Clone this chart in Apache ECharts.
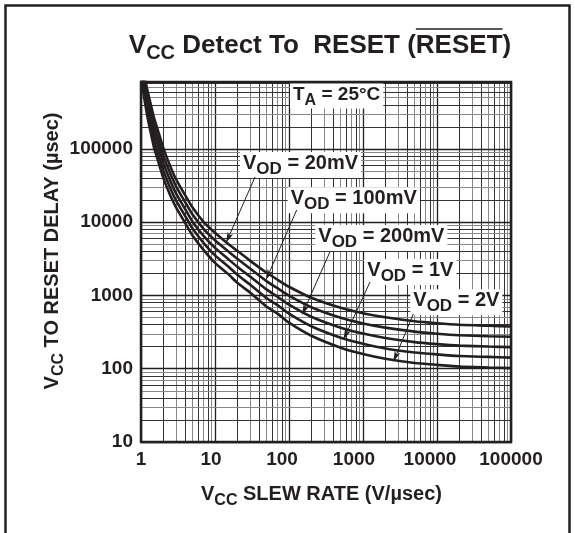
<!DOCTYPE html>
<html><head><meta charset="utf-8">
<script src="https://cdn.jsdelivr.net/npm/echarts@6/dist/echarts.min.js"></script>
<style>html,body{margin:0;padding:0;background:#fff}#c{width:575px;height:533px}</style>
</head><body><div id="c"></div>
<script>
// ---- data ----
const slewRate   = [1, 1.1, 1.2, 1.3, 1.5, 1.7, 2, 2.5, 3, 4, 5, 7, 10, 15, 20, 30, 50, 70, 100, 200, 500, 1000, 2000, 5000, 10000, 20000, 50000, 100000];
const delay20mV  = [1640000, 1026000, 682000, 483000, 266000, 177000, 103500, 57000, 37800, 22900, 15700, 10100, 7160, 5070, 4070, 2970, 2040, 1640, 1315, 931, 679, 572, 505, 445, 418, 398, 386, 378];
const delay100mV = [1424000, 863000, 556000, 388000, 210000, 140000, 81800, 45400, 30400, 18400, 12600, 8110, 5660, 4010, 3170, 2310, 1560, 1260, 992, 691, 496, 415, 364, 321, 301, 287, 278, 273];
const delay200mV = [1236000, 726000, 453000, 311000, 166000, 110000, 64600, 36200, 24400, 14800, 10100, 6510, 4470, 3160, 2460, 1800, 1200, 962, 748, 513, 363, 302, 263, 231, 217, 207, 201, 197];
const delay1V    = [1073000, 610000, 369000, 250000, 131000, 87200, 51000, 28900, 19600, 11900, 8130, 5230, 3530, 2500, 1920, 1400, 917, 737, 564, 380, 265, 219, 189, 167, 157, 149, 145, 142];
const delay2V    = [931000, 513000, 301000, 201000, 104000, 68900, 40300, 23000, 15700, 9540, 6530, 4200, 2790, 1970, 1490, 1090, 702, 565, 425, 282, 194, 159, 137, 120, 113, 107, 104, 102];
const seriesNames = ['VOD = 20mV', 'VOD = 100mV', 'VOD = 200mV', 'VOD = 1V', 'VOD = 2V'];
const xTickLabels = [1, 10, 100, 1000, 10000, 100000];
const yTickLabels = [10, 100, 1000, 10000, 100000];
const xMin = 1, xMax = 100000, yMin = 10, yMax = 820000;

const FONT = '"Liberation Sans", Arial, Helvetica, sans-serif';
const INK = '#231f20';

// grid lines (log paper: 1..9 per decade)
function logGrid(lo, hi) {
  const out = [];
  for (let d = lo; d < hi * 10; d *= 10) {
    for (let m = 1; m <= 9; m++) {
      const v = m * d;
      if (v > lo * 0.999 && v < hi * 1.001) out.push({ v: v, major: m === 1, m: m });
    }
  }
  return out;
}
const mlData = [];
function styleFor(g) {
  if (g.major) return { color: INK, width: 1.3, type: 'solid' };
  return (g.m % 2 === 0) ? { color: '#333', width: 1, type: 'solid' } : { color: '#888', width: 1, type: 'solid' };
}
logGrid(xMin, xMax).forEach(g => mlData.push({ xAxis: g.v, lineStyle: styleFor(g) }));
logGrid(yMin, yMax).forEach(g => mlData.push({ yAxis: g.v, lineStyle: styleFor(g) }));

function tickIndex(v, arr) { return arr.findIndex(t => Math.abs(Math.log10(v) - Math.log10(t)) < 1e-6); }

// small horizontal shifts of the x tick labels as printed in the reference (layout only)
const xLabelShift = [0, -4, -7, -9, -7, 0];
const xRich = {};
xLabelShift.forEach((s, i) => {
  xRich['s' + i] = { fontSize: 19, fontWeight: 'bold', fontFamily: FONT, color: INK,
    padding: s < 0 ? [0, -2 * s, 0, 0] : [0, 0, 0, 2 * s] };
});

// text layout helpers
const mctx = document.createElement('canvas').getContext('2d');
function tw(t, s) { mctx.font = 'bold ' + s + 'px ' + FONT; return mctx.measureText(t).width; }
function seqWidth(segs) { return segs.reduce((a, s) => a + tw(s[0], s[1]), 0); }
function seq(segs, x0, yc) {
  let x = x0; const els = [];
  segs.forEach(s => {
    els.push({ type: 'text', x: x, y: yc + s[2], z: 50,
      style: { text: s[0], fontSize: s[1], fontWeight: 'bold', fontFamily: FONT, fill: INK, align: 'left', verticalAlign: 'middle' } });
    x += tw(s[0], s[1]);
  });
  return els;
}
function boxed(segs, x0, yc, padX, padTop, padBot) {
  const w = seqWidth(segs);
  return [{ type: 'rect', z: 45, shape: { x: x0 - padX, y: yc - padTop, width: w + 2 * padX, height: padTop + padBot }, style: { fill: '#fff' } }].concat(seq(segs, x0, yc));
}
function arrow(x1, y1, x2, y2) {
  const dx = x2 - x1, dy = y2 - y1, L = Math.hypot(dx, dy), ux = dx / L, uy = dy / L, nx = -uy, ny = ux;
  const hl = 11, hw = 3;
  const bx = x2 - ux * hl, by = y2 - uy * hl;
  return [
    { type: 'line', z: 48, shape: { x1: x1, y1: y1, x2: bx + ux * 3, y2: by + uy * 3 }, style: { stroke: INK, lineWidth: 1 } },
    { type: 'polygon', z: 48, shape: { points: [[x2, y2], [bx + nx * hw, by + ny * hw], [x2 - ux * hl * 0.75, y2 - uy * hl * 0.75], [bx - nx * hw, by - ny * hw]] }, style: { fill: INK } }
  ];
}

let graphics = [];
// outer frame
graphics.push({ type: 'rect', z: 40, shape: { x: 5.5, y: 5.5, width: 564, height: 540 }, style: { fill: 'none', stroke: INK, lineWidth: 2.5 } });
// title
const titleSegs = [['V', 26, 0], ['CC', 20, 7], [' Detect To  RESET (', 26, 0], ['RESET', 26, 0], [')', 26, 0]];
const tW = seqWidth(titleSegs);
const tX = 320 - tW / 2;
graphics = graphics.concat(seq(titleSegs, tX, 46));
const olX = tX + seqWidth(titleSegs.slice(0, 3));
graphics.push({ type: 'line', z: 50, shape: { x1: olX, y1: 29, x2: olX + tw('RESET', 26), y2: 29 }, style: { stroke: INK, lineWidth: 1.5 } });
// x axis title
const xtSegs = [['V', 20, 0], ['CC', 16, 7], [' SLEW RATE (V/µsec)', 20, 0]];
graphics = graphics.concat(seq(xtSegs, 321.5 - seqWidth(xtSegs) / 2, 494));
// y axis title (rotated)
const ytSegs = [['V', 20, 0], ['CC', 16, 7], [' TO RESET DELAY (µsec)', 20, 0]];
const ytW = seqWidth(ytSegs);
graphics.push({ type: 'group', x: 52, y: 251, rotation: Math.PI / 2, children: seq(ytSegs, -ytW / 2, 0) });
// annotations
graphics = graphics.concat(boxed([['T', 19, 0], ['A', 16, 6], [' = 25°C', 19, 0]], 293, 94.5, 3, 11, 14));
const labelPos = [[243, 163], [290.7, 198.3], [318.3, 236], [367.3, 270], [413.3, 300.3]];
const labelSegs = [
  [['V', 20, 0], ['OD', 17, 6], [' = 20mV', 20, 0]],
  [['V', 20, 0], ['OD', 17, 6], [' = 100mV', 20, 0]],
  [['V', 20, 0], ['OD', 17, 6], [' = 200mV', 20, 0]],
  [['V', 20, 0], ['OD', 17, 6], [' = 1V', 20, 0]],
  [['V', 20, 0], ['OD', 17, 6], [' = 2V', 20, 0]]
];
labelSegs.forEach((s, i) => { graphics = graphics.concat(boxed(s, labelPos[i][0], labelPos[i][1], 3, 11, 15)); });
const arrows = [[255, 177, 226, 243], [296.7, 210, 266, 280], [330, 251.7, 302, 315], [370, 282, 343.3, 340], [413.3, 314, 393.3, 362]];
arrows.forEach(a => { graphics = graphics.concat(arrow(a[0], a[1], a[2], a[3])); });

const allDelays = [delay20mV, delay100mV, delay200mV, delay1V, delay2V];
const curveSeries = allDelays.map((d, i) => ({
  name: seriesNames[i], type: 'line', z: 5, smooth: 0.2, showSymbol: false, symbol: 'none',
  lineStyle: { color: INK, width: 2.6 }, data: slewRate.map((x, j) => [x, d[j]]), animation: false, silent: true
}));

const chart = echarts.init(document.getElementById('c'), null, { renderer: 'canvas' });
chart.setOption({
  animation: false,
  backgroundColor: '#fff',
  grid: { left: 141, right: 64, top: 82, bottom: 91, show: true, borderColor: INK, borderWidth: 2.5, backgroundColor: 'transparent', z: 10 },
  xAxis: { type: 'log', logBase: 10, min: xMin, max: xMax,
    axisLine: { show: false }, axisTick: { show: false }, splitLine: { show: false }, minorSplitLine: { show: false },
    axisLabel: { margin: 8, fontSize: 19, fontWeight: 'bold', fontFamily: FONT, color: INK, showMinLabel: true, showMaxLabel: true,
      rich: xRich,
      formatter: v => { const i = tickIndex(v, xTickLabels); return i < 0 ? '' : '{s' + i + '|' + xTickLabels[i] + '}'; } } },
  yAxis: { type: 'log', logBase: 10, min: yMin, max: yMax,
    axisLine: { show: false }, axisTick: { show: false }, splitLine: { show: false },
    axisLabel: { margin: 8, fontSize: 19, fontWeight: 'bold', fontFamily: FONT, color: INK,
      formatter: v => { const i = tickIndex(v, yTickLabels); return i < 0 ? '' : String(yTickLabels[i]); } } },
  series: [{ type: 'line', z: 1, data: [[1, 10]], symbol: 'none', showSymbol: false, lineStyle: { width: 0 }, silent: true,
    markLine: { silent: true, symbol: ['none', 'none'], label: { show: false }, animation: false, emphasis: { disabled: true }, data: mlData } }
  ].concat(curveSeries),
  graphic: graphics
});
</script></body></html>
